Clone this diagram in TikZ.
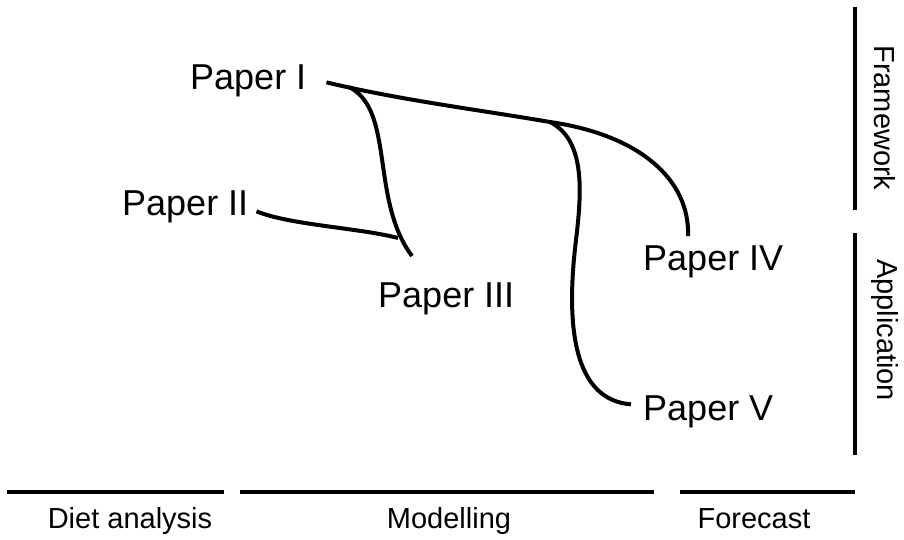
\documentclass[tikz,border=0pt]{standalone}
\usepackage{fontspec}
\setmainfont{Liberation Sans}
\usepackage{tikz}
\usetikzlibrary{positioning}
\definecolor{InkBlack}{HTML}{000000}
\tikzset{
  % Text styles
  paperlabel/.style={inner sep=0pt, anchor=base west, font=\fontsize{36}{40}\selectfont, text=InkBlack},
  stagelabel/.style={inner sep=0pt, anchor=base, font=\fontsize{29}{32}\selectfont, text=InkBlack},
  scopelabel/.style={inner sep=0pt, rotate=-90, font=\fontsize{29}{32}\selectfont, text=InkBlack},
  % Line styles
  link/.style={line width=4pt, InkBlack},
  bar/.style={line width=4.2pt, InkBlack}
}

\begin{document}
\begin{tikzpicture}[x=1pt, y=-1pt]
  \useasboundingbox (0,0) rectangle (904,540);

  % Papers
  \node[paperlabel] (p1) at (190,90) {Paper I};
  \node[paperlabel] (p2) at (122,215) {Paper II};
  \node[paperlabel] (p3) at (378,307) {Paper III};
  \node[paperlabel] (p4) at (643,270) {Paper IV};
  \node[paperlabel] (p5) at (643,420) {Paper V};

  % Branch points
  \coordinate (split) at (349,87);
  \coordinate (fork) at (550,122);
  \coordinate (merge) at (398,238);

  % Links between papers
  \draw[link] ([shift={(20,1)}]p1.east) .. controls (400,100) and (480,110) .. (fork)
    .. controls (640,135) and (690,180) .. ([shift={(45,-9)}]p4.north west);
  \draw[link] (split) .. controls (395,110) and (370,200) .. ([shift={(34,-26)}]p3.north west);
  \draw[link] ([shift={(8,5)}]p2.east) .. controls (290,225) and (360,228) .. (merge);
  \draw[link] (fork) .. controls (585,140) and (582,190) .. (576,240)
    .. controls (565,330) and (575,400) .. ([shift={(-12,-7)}]p5.west);

  % Stages along the bottom
  \draw[bar] (7,492) -- (224,492);
  \draw[bar] (240,492) -- (654,492);
  \draw[bar] (680,492) -- (855,492);
  \node[stagelabel] (diet) at (130,528) {Diet analysis};
  \node[stagelabel] (model) at (449,528) {Modelling};
  \node[stagelabel] (fore) at (754,528) {Forecast};

  % Scope on the right
  \draw[bar] (855,7) -- (855,210);
  \draw[bar] (855,233) -- (855,455);
  \node[scopelabel] (frame) at (885,118) {Framework};
  \node[scopelabel] (appl) at (885,330) {Application};
\end{tikzpicture}
\end{document}
